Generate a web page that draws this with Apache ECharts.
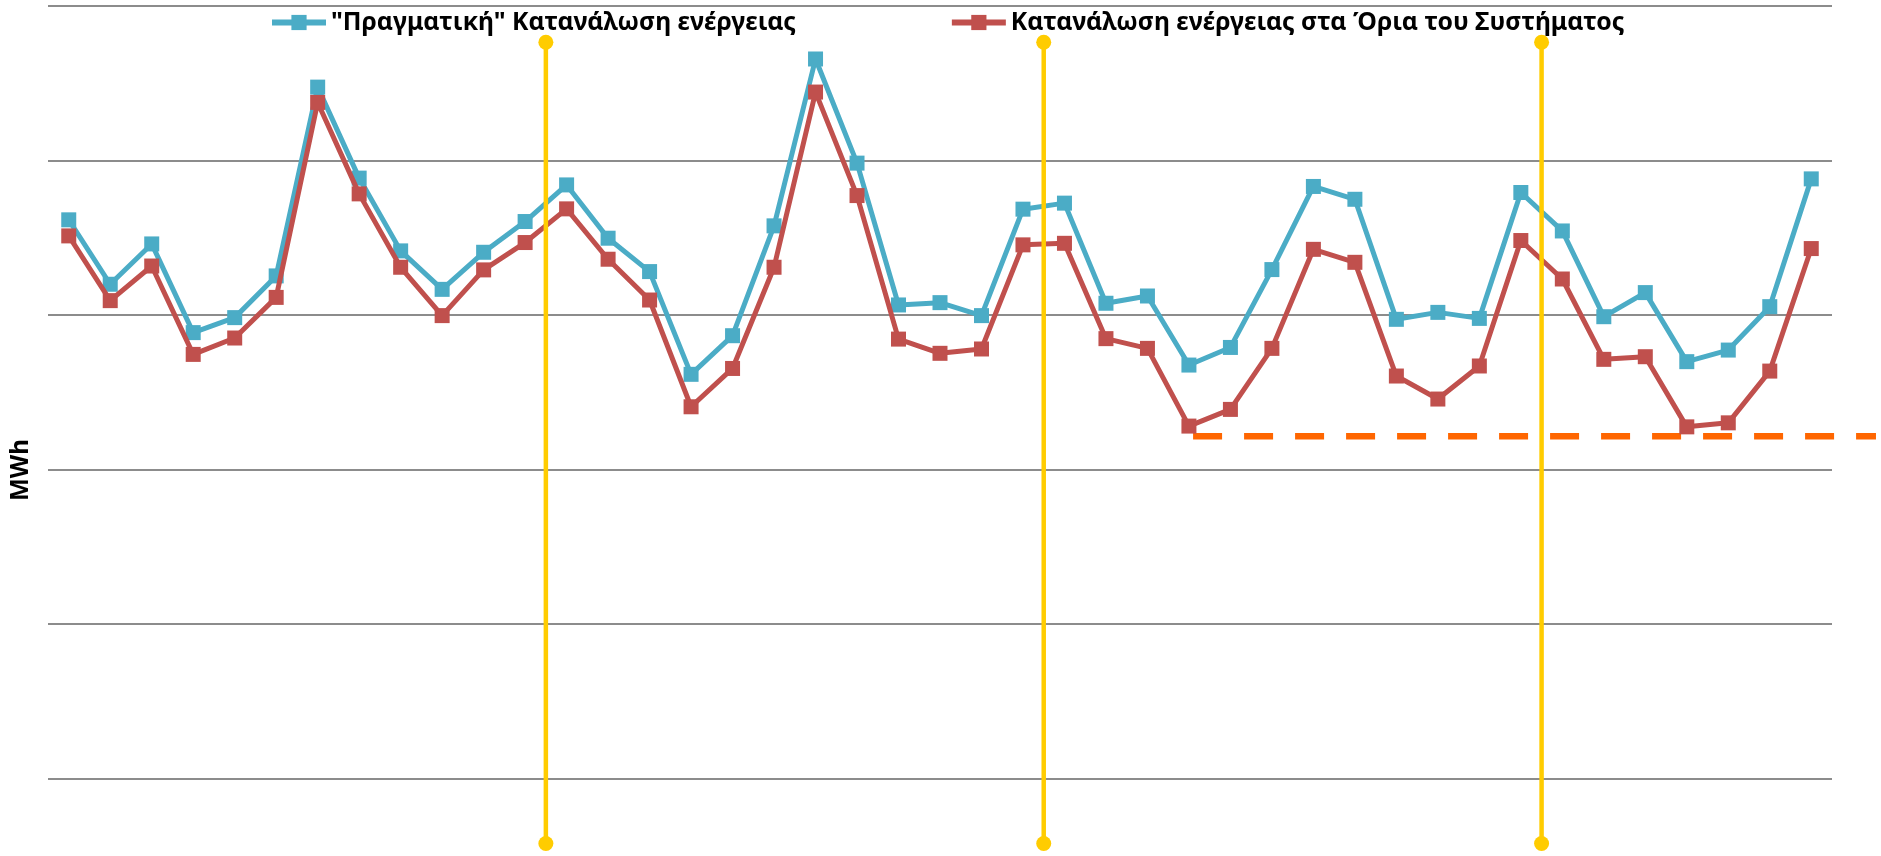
<!DOCTYPE html>
<html>
<head>
<meta charset="utf-8">
<script src="https://cdn.jsdelivr.net/npm/echarts@6/dist/echarts.min.js"></script>
<style>
  html, body { margin: 0; padding: 0; background: #ffffff; }
  #chart { width: 1881px; height: 856px; }
</style>
</head>
<body>
<div id="chart"></div>
<script>
// ---- Data (MWh; grid step = 1000) ----
const months = Array.from({length: 43}, (_, i) => String(i + 1));
const seriesNames = ['"Πραγματική" Κατανάλωση ενέργειας', 'Κατανάλωση ενέργειας στα Όρια του Συστήματος'];
const realConsumption = [3616, 3199, 3460, 2886, 2983, 3253, 4475, 3886, 3415, 3166, 3406, 3605,
  3842, 3497, 3281, 2616, 2866, 3577, 4657, 3983, 3065, 3080, 2996, 3685,
  3724, 3076, 3123, 2676, 2790, 3294, 3832, 3749, 2972, 3017, 2978, 3793,
  3544, 2989, 3145, 2698, 2773, 3054, 3881];
const boundaryConsumption = [3512, 3093, 3317, 2745, 2851, 3114, 4376, 3784, 3309, 2996, 3292, 3469,
  3687, 3361, 3097, 2406, 2654, 3309, 4443, 3773, 2844, 2752, 2780, 3454,
  3464, 2847, 2784, 2281, 2389, 2784, 3425, 3341, 2605, 2456, 2670, 3482,
  3233, 2713, 2730, 2276, 2302, 2637, 3430];
const yearBoundaries = [12, 24, 36];          // positions between months (category units)
const yearLineSpan = [4765, -421];           // top and bottom of the yellow markers (MWh units)
const thresholdLevel = 2216;                  // orange dashed reference level
const thresholdSpan = [27.6, 44.06];          // start / end (category units)
const yTicks = [0, 1000, 2000, 3000, 4000, 5000];
const yAxisTitle = 'MWh';

const FONT = '"Noto Sans", "Open Sans", sans-serif';

// layout
const W = 1881, GL = 48, GR = 49, GT = 6, GB = 77.5, OVR = 5;
const overlayMax = months.length * (W - GL - OVR) / (W - GL - GR); // same unit scale on wider overlay grid

function fitFont(text, target) {
  const c = document.createElement('canvas').getContext('2d');
  c.font = 'bold 100px ' + FONT;
  return 100 * target / c.measureText(text).width;
}
const legendFont = (fitFont(seriesNames[0], 467) + fitFont(seriesNames[1], 611)) / 2;
const titleFont = fitFont(yAxisTitle, 62);

const chart = echarts.init(document.getElementById('chart'), null, {renderer: 'canvas'});

const series = [
  {
    name: seriesNames[0], type: 'line', data: realConsumption,
    xAxisIndex: 0, yAxisIndex: 0,
    symbol: 'rect', symbolSize: 15, z: 3,
    lineStyle: {color: '#4BACC6', width: 5},
    itemStyle: {color: '#4BACC6'}
  },
  {
    name: seriesNames[1], type: 'line', data: boundaryConsumption,
    xAxisIndex: 0, yAxisIndex: 0,
    symbol: 'rect', symbolSize: 15, z: 4,
    lineStyle: {color: '#C0504D', width: 5},
    itemStyle: {color: '#C0504D'}
  },
  {
    name: 'threshold', type: 'line', xAxisIndex: 2, yAxisIndex: 1,
    data: [[thresholdSpan[0], thresholdLevel], [thresholdSpan[1], thresholdLevel]],
    symbol: 'none', clip: false, z: 2, silent: true,
    lineStyle: {color: '#FF6600', width: 6.5, type: [29, 22]}
  }
];
yearBoundaries.forEach((b, i) => {
  series.push({
    name: 'year' + i, type: 'line', xAxisIndex: 1, yAxisIndex: 0,
    data: [[b, yearLineSpan[0]], [b, yearLineSpan[1]]],
    symbol: 'circle', symbolSize: 15, clip: false, z: 6, silent: true,
    lineStyle: {color: '#FFCC00', width: 4.5},
    itemStyle: {color: '#FFCC00'}
  });
});

chart.setOption({
  backgroundColor: '#ffffff',
  animation: false,
  textStyle: {fontFamily: FONT},
  grid: [
    {left: GL, right: GR, top: GT, bottom: GB, containLabel: false},
    {left: GL, right: OVR, top: GT, bottom: GB, containLabel: false}
  ],
  legend: {
    data: seriesNames,
    left: 269, top: 10, padding: 0,
    itemWidth: 54, itemHeight: 19, itemGap: 153,
    lineStyle: {width: 6},
    textStyle: {fontSize: legendFont, fontWeight: 'bold', color: '#000000', fontFamily: FONT}
  },
  xAxis: [
    {type: 'category', data: months, boundaryGap: true, show: false, gridIndex: 0},
    {type: 'value', min: 0, max: months.length, show: false, gridIndex: 0},
    {type: 'value', min: 0, max: overlayMax, show: false, gridIndex: 1}
  ],
  yAxis: [
    {
      type: 'value', min: yTicks[0], max: yTicks[yTicks.length - 1], interval: 1000, gridIndex: 0,
      axisLine: {show: false}, axisTick: {show: false}, axisLabel: {show: false},
      splitLine: {show: true, lineStyle: {color: '#8C8C8C', width: 2}}
    },
    {
      type: 'value', min: yTicks[0], max: yTicks[yTicks.length - 1], interval: 1000, gridIndex: 1,
      show: false, splitLine: {show: false}
    }
  ],
  graphic: [{
    type: 'text', x: 21, y: 470, rotation: Math.PI / 2,
    style: {
      text: yAxisTitle,
      font: 'bold ' + titleFont.toFixed(1) + 'px ' + FONT,
      fill: '#000000', align: 'center', verticalAlign: 'middle'
    }
  }],
  series: series
});
</script>
</body>
</html>
